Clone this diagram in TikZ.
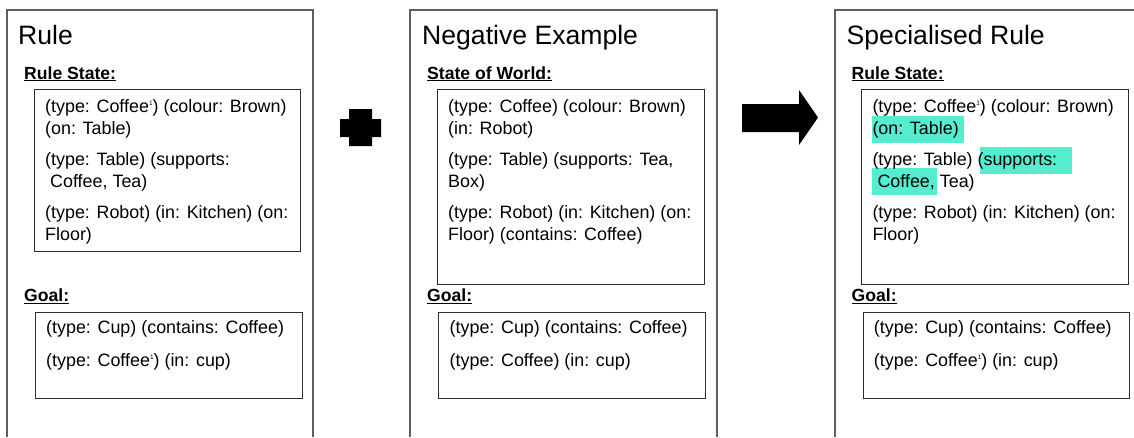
\documentclass[tikz,border=0pt]{standalone}
\usepackage{fontspec}
\setmainfont{Liberation Sans}
\definecolor{hl}{RGB}{84,237,208}
\definecolor{panelline}{RGB}{95,95,95}
\definecolor{boxline}{RGB}{45,45,45}
\newcommand\titlefont{\fontsize{26.6}{30}\selectfont}
\newcommand\bodyfont{\fontsize{17.9}{21.5}\selectfont}
\newcommand\labelfont{\fontsize{17.6}{21}\selectfont\bfseries}
\newcommand\sone{\raisebox{7pt}{\fontsize{6.5}{6.5}\selectfont 1}}
\newcommand\lead{\hspace*{5pt}}
\tikzset{
  panel/.style={draw=panelline, line width=1.3pt},
  listbox/.style={draw=boxline, line width=1.2pt, anchor=north west, inner sep=0pt},
  ttl/.style={anchor=base west, inner sep=0pt, font=\titlefont},
  lbl/.style={anchor=base west, inner sep=0pt, font=\labelfont},
  txt/.style={anchor=base west, inner sep=0pt, font=\bodyfont},
  sym/.style={fill=black, draw=none}
}
\begin{document}
\begin{tikzpicture}[x=1pt,y=-1pt]
\useasboundingbox (0,0) rectangle (1134,437);

% ---------- panel outlines (open at the bottom) ----------
\draw[panel] (7,437) -- (7,10) -- (313,10) -- (313,437);
\draw[panel] (410,437) -- (410,10) -- (717,10) -- (717,437);
\draw[panel] (835,437) -- (835,10) -- (1134,10);

% ---------- inner boxes ----------
\node[listbox, minimum width=266, minimum height=162] (rs1) at (34,89) {};
\node[listbox, minimum width=267, minimum height=86]  (g1)  at (35,312) {};
\node[listbox, minimum width=267, minimum height=195] (rs2) at (437,89) {};
\node[listbox, minimum width=267, minimum height=86]  (g2)  at (438,312) {};
\node[listbox, minimum width=267, minimum height=195] (rs3) at (861,89) {};
\node[listbox, minimum width=266, minimum height=86]  (g3)  at (863,312) {};

% ---------- highlighted terms ----------
\fill[hl] (872,116) rectangle (964,143);
\fill[hl] (980,147) rectangle (1072,174);
\fill[hl] (872,168) rectangle (937,195);

% ---------- panel 1: Rule ----------
\node[ttl] (t1) at (18,44) {Rule};
\node[lbl] (l1s) at (24,79) {\underline{Rule State:}};
\node[txt] (a1) at (45,112.7) {(type: Coffee\sone) (colour: Brown)};
\node[txt] (a2) at (45,134.2) {(on: Table)};
\node[txt] (a3) at (45,165.5) {(type: Table) (supports:};
\node[txt] (a4) at (45,187)   {\lead Coffee, Tea)};
\node[txt] (a5) at (45,218.5) {(type: Robot) (in: Kitchen) (on:};
\node[txt] (a6) at (45,240)   {Floor)};
\node[lbl] (l1g) at (24,301.7) {\underline{Goal:}};
\node[txt] (a7) at (46,333.3) {(type: Cup) (contains: Coffee)};
\node[txt] (a8) at (46,366.7) {(type: Coffee\sone) (in: cup)};

% ---------- panel 2: Negative Example ----------
\node[ttl] (t2) at (422,44) {Negative Example};
\node[lbl] (l2s) at (427,79) {\underline{State of World:}};
\node[txt] (b1) at (448,112.7) {(type: Coffee) (colour: Brown)};
\node[txt] (b2) at (448,134.2) {(in: Robot)};
\node[txt] (b3) at (448,165.5) {(type: Table) (supports: Tea,};
\node[txt] (b4) at (448,187)   {Box)};
\node[txt] (b5) at (448,218.5) {(type: Robot) (in: Kitchen) (on:};
\node[txt] (b6) at (448,240)   {Floor) (contains: Coffee)};
\node[lbl] (l2g) at (427,301.7) {\underline{Goal:}};
\node[txt] (b7) at (449.5,333.3) {(type: Cup) (contains: Coffee)};
\node[txt] (b8) at (449.5,366.7) {(type: Coffee) (in: cup)};

% ---------- panel 3: Specialised Rule ----------
\node[ttl] (t3) at (846.5,44) {Specialised Rule};
\node[lbl] (l3s) at (851.5,79) {\underline{Rule State:}};
\node[txt] (c1) at (872.3,112.7) {(type: Coffee\sone) (colour: Brown)};
\node[txt] (c2) at (872.3,134.2) {(on: Table)};
\node[txt] (c3) at (872.3,165.5) {(type: Table) (supports:};
\node[txt] (c4) at (872.3,187)   {\lead Coffee, Tea)};
\node[txt] (c5) at (872.3,218.5) {(type: Robot) (in: Kitchen) (on:};
\node[txt] (c6) at (872.3,240)   {Floor)};
\node[lbl] (l3g) at (851.5,301.7) {\underline{Goal:}};
\node[txt] (c7) at (873.7,333.3) {(type: Cup) (contains: Coffee)};
\node[txt] (c8) at (873.7,366.7) {(type: Coffee\sone) (in: cup)};

% ---------- plus sign ----------
\fill[sym] (349,109) -- (372,109) -- (372,119) -- (381,119) -- (381,137)
  -- (372,137) -- (372,146) -- (349,146) -- (349,137) -- (340,137)
  -- (340,119) -- (349,119) -- cycle;

% ---------- block arrow ----------
\fill[sym] (742,104) -- (799,104) -- (799,90) -- (818,117.5) -- (799,145)
  -- (799,132) -- (742,132) -- cycle;
\end{tikzpicture}
\end{document}
